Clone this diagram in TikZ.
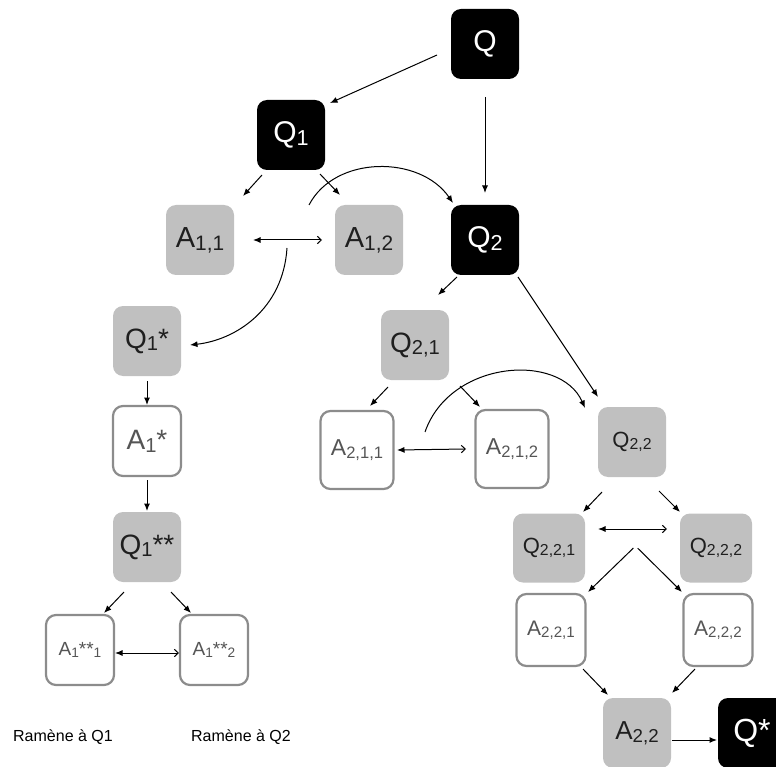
\documentclass[tikz,border=0pt]{standalone}
\usepackage{fontspec}
\setmainfont{Liberation Sans}
\usepackage{graphicx}
\usetikzlibrary{arrows.meta}
\newcommand\subx[1]{\raisebox{-0.1em}{\scalebox{0.72}{#1}}}
\newcommand\fsz[1]{\fontsize{#1pt}{#1pt}\selectfont}
\definecolor{boxgray}{HTML}{C0C0C0}
\definecolor{edgegray}{HTML}{8C8C8C}
\definecolor{txtgray}{HTML}{555555}
\begin{document}
\begin{tikzpicture}[x=1pt,y=-1pt,
  base/.style={rounded corners=10pt, minimum width=68pt, minimum height=70pt, inner sep=0pt, align=center},
  qblack/.style={base, fill=black, text=white},
  qgray/.style={base, fill=boxgray, text=black!88},
  awhite/.style={base, draw=edgegray, line width=2.2pt, fill=white, text=txtgray},
  arr/.style={-{Latex[length=7.5pt,width=6pt]}, line width=1pt},
  darr/.style={{Latex[length=7.5pt,width=6pt]}-{Straight Barb[length=4pt,width=7.5pt]}, line width=1pt}]
\clip (0,0) rectangle (776,767);
% nodes
\node[qblack, font=\fsz{30}] (Q) at (485,44) {Q};
\node[qblack, font=\fsz{30}] (Q1) at (291,135) {Q\subx{1}};
\node[qgray, font=\fsz{29}] (A11) at (200,240) {A\subx{1,1}};
\node[qgray, font=\fsz{29}] (A12) at (369,240) {A\subx{1,2}};
\node[qblack, font=\fsz{30}] (Q2) at (485,240) {Q\subx{2}};
\node[qgray, font=\fsz{28}] (Q1s) at (147,341) {Q\subx{1}*};
\node[awhite, font=\fsz{28}] (A1s) at (147,441) {A\subx{1}*};
\node[qgray, font=\fsz{28}] (Q1ss) at (147,547) {Q\subx{1}**};
\node[awhite, font=\fsz{19}] (A1ss1) at (80,650) {A\subx{1}**\subx{1}};
\node[awhite, font=\fsz{19}] (A1ss2) at (214,650) {A\subx{1}**\subx{2}};
\node[font=\fsz{16}] (R1) at (63,737) {Ramène à Q1};
\node[font=\fsz{16}] (R2) at (241,737) {Ramène à Q2};
\node[qgray, font=\fsz{28}] (Q21) at (415,345) {Q\subx{2,1}};
\node[awhite, minimum width=73pt, minimum height=78pt, font=\fsz{23}] (A211) at (357,450) {A\subx{2,1,1}};
\node[awhite, minimum width=73pt, minimum height=78pt, font=\fsz{23}] (A212) at (512,449) {A\subx{2,1,2}};
\node[qgray, font=\fsz{22}] (Q22) at (632,442) {Q\subx{2,2}};
\node[qgray, minimum width=72pt, minimum height=69pt, font=\fsz{22}] (Q221) at (549,548) {Q\subx{2,2,1}};
\node[qgray, minimum width=72pt, minimum height=69pt, font=\fsz{22}] (Q222) at (716,548) {Q\subx{2,2,2}};
\node[awhite, minimum width=69pt, minimum height=72pt, font=\fsz{21}] (A221) at (551,630) {A\subx{2,2,1}};
\node[awhite, minimum width=69pt, minimum height=72pt, font=\fsz{21}] (A222) at (718,630) {A\subx{2,2,2}};
\node[qgray, font=\fsz{26}] (A22) at (637,733) {A\subx{2,2}};
\node[qblack, font=\fsz{32}] (Qs) at (752,733) {Q*};
% free ends
\coordinate (c1) at (309,205);
\coordinate (c2) at (287,248);
\coordinate (c3) at (425,432);
\coordinate (m) at (635.5,546);
% connectors
\draw[arr] ([shift={(-48,11)}]Q.center) -- ([shift={(39,-32)}]Q1.center);
\draw[arr] ([shift={(0,53)}]Q.center) -- ([shift={(0,-47)}]Q2.center);
\draw[arr] ([shift={(-29,40)}]Q1.center) -- ([shift={(43,-44)}]A11.center);
\draw[arr] ([shift={(29,39)}]Q1.center) -- ([shift={(-29,-45)}]A12.center);
\draw[arr] (c1) .. controls (335,155) and (420,155) .. ([shift={(-32,-37)}]Q2.center);
\draw[darr] ([shift={(53,0)}]A11.center) -- ([shift={(-47,0)}]A12.center);
\draw[arr] (c2) .. controls (283,310) and (235,340) .. ([shift={(43,4)}]Q1s.center);
\draw[arr] ([shift={(0,40)}]Q1s.center) -- ([shift={(0,-36)}]A1s.center);
\draw[arr] ([shift={(0,39)}]A1s.center) -- ([shift={(0,-36)}]Q1ss.center);
\draw[arr] ([shift={(-23,45)}]Q1ss.center) -- ([shift={(24,-37)}]A1ss1.center);
\draw[arr] ([shift={(24,45)}]Q1ss.center) -- ([shift={(-23,-37)}]A1ss2.center);
\draw[darr] ([shift={(35,3)}]A1ss1.center) -- ([shift={(-35,3)}]A1ss2.center);
\draw[arr] ([shift={(-28,37)}]Q2.center) -- ([shift={(23,-50)}]Q21.center);
\draw[arr] ([shift={(33,37)}]Q2.center) -- ([shift={(-34,-45)}]Q22.center);
\draw[arr] ([shift={(-27,42)}]Q21.center) -- ([shift={(13,-44)}]A211.center);
\draw[arr] ([shift={(45,41)}]Q21.center) -- ([shift={(-32,-42)}]A212.center);
\draw[arr] (c3) .. controls (450,360) and (560,352) .. ([shift={(-47,-34)}]Q22.center);
\draw[darr] ([shift={(40,0)}]A211.center) -- ([shift={(-46,0)}]A212.center);
\draw[arr] ([shift={(-30,50)}]Q22.center) -- ([shift={(34,-36)}]Q221.center);
\draw[arr] ([shift={(27,49)}]Q22.center) -- ([shift={(-36,-36)}]Q222.center);
\draw[darr] ([shift={(49,-19)}]Q221.center) -- ([shift={(-49,-19)}]Q222.center);
\draw[arr, shorten <=3pt] (m) -- ([shift={(37,-38)}]A221.center);
\draw[arr, shorten <=3pt] (m) -- ([shift={(-36,-38)}]A222.center);
\draw[arr] ([shift={(32,39)}]A221.center) -- ([shift={(-29,-38)}]A22.center);
\draw[arr] ([shift={(-23,39)}]A222.center) -- ([shift={(35,-40)}]A22.center);
\draw[arr] ([shift={(35,7)}]A22.center) -- ([shift={(-35,7)}]Qs.center);
\end{tikzpicture}
\end{document}
